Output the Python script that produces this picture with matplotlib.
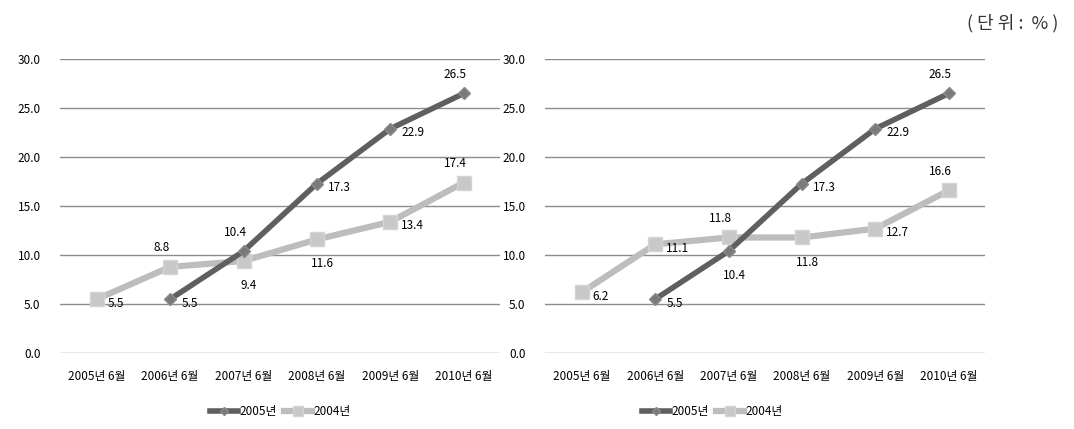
import matplotlib.pyplot as plt
import numpy as np

plt.rcParams['font.family'] = ['Noto Sans CJK KR', 'DejaVu Sans']

months = ['2005년 6월', '2006년 6월', '2007년 6월', '2008년 6월', '2009년 6월', '2010년 6월']
series_names = ['2005년', '2004년']

left_2005 = [np.nan, 5.5, 10.4, 17.3, 22.9, 26.5]
left_2004 = [5.5, 8.8, 9.4, 11.6, 13.4, 17.4]
right_2005 = [np.nan, 5.5, 10.4, 17.3, 22.9, 26.5]
right_2004 = [6.2, 11.1, 11.8, 11.8, 12.7, 16.6]

yticks = [0, 5, 10, 15, 20, 25, 30]

dark = '#5f5f5f'
light = '#bdbdbd'

# label placement per point: 'r' right, 'a' above, 'b' below
left_pos_2005 = [None, 'r', 'a', 'r', 'r', 'a']
left_pos_2004 = ['r', 'a', 'b', 'b', 'r', 'a']
right_pos_2005 = [None, 'r', 'b', 'r', 'r', 'a']
right_pos_2004 = ['r', 'r', 'a', 'b', 'r', 'a']

offsets = {'r': (8, -3, 'left', 'center'),
           'a': (-6, 9, 'center', 'bottom'),
           'b': (4, -13, 'center', 'top')}

fig = plt.figure(figsize=(10.74, 4.29), dpi=100)


def draw(ax, s05, s04, p05, p04, legend_x):
    x = np.arange(len(months))
    ax.plot(x, s05, color=dark, lw=4, marker='D', ms=6.5, mfc='#7a7a7a',
            mec='#8a8a8a', label=series_names[0], zorder=3)
    ax.plot(x, s04, color=light, lw=4.5, marker='s', ms=10, mfc='#c8c8c8',
            mec='#d4d4d4', label=series_names[1], zorder=2)
    for vals, poss in ((s05, p05), (s04, p04)):
        for xi, v, p in zip(x, vals, poss):
            if p is None or np.isnan(v):
                continue
            dx, dy, ha, va = offsets[p]
            ax.annotate(f'{v:.1f}', (xi, v), xytext=(dx, dy),
                        textcoords='offset points', ha=ha, va=va, fontsize=8.5)
    ax.set_xlim(-0.5, len(months) - 0.5)
    ax.set_ylim(0, 30)
    ax.set_yticks(yticks)
    ax.set_yticklabels([f'{t:.1f}' for t in yticks], fontsize=8.5)
    ax.set_xticks(x)
    ax.set_xticklabels(months, fontsize=8.5)
    ax.grid(axis='y', color='#8c8c8c', lw=1)
    ax.set_axisbelow(True)
    for sp in ax.spines.values():
        sp.set_visible(False)
    ax.tick_params(length=0, pad=12)
    ax.tick_params(axis='y', pad=14)
    ax.legend(loc='center', bbox_to_anchor=(legend_x, -0.2), ncol=2, frameon=False,
              fontsize=8.5, handlelength=2.4, columnspacing=0.6, handletextpad=0.1,
              markerscale=0.7)


ax1 = fig.add_axes([0.0559, 0.177, 0.41, 0.685])
draw(ax1, left_2005, left_2004, left_pos_2005, left_pos_2004, 0.5)
ax2 = fig.add_axes([0.5075, 0.177, 0.41, 0.685])
draw(ax2, right_2005, right_2004, right_pos_2005, right_pos_2004, 0.38)

fig.text(0.985, 0.945, '( 단 위 :  % )', ha='right', va='center', fontsize=13, color='#333333')

fig.savefig('out.png', dpi=100)
